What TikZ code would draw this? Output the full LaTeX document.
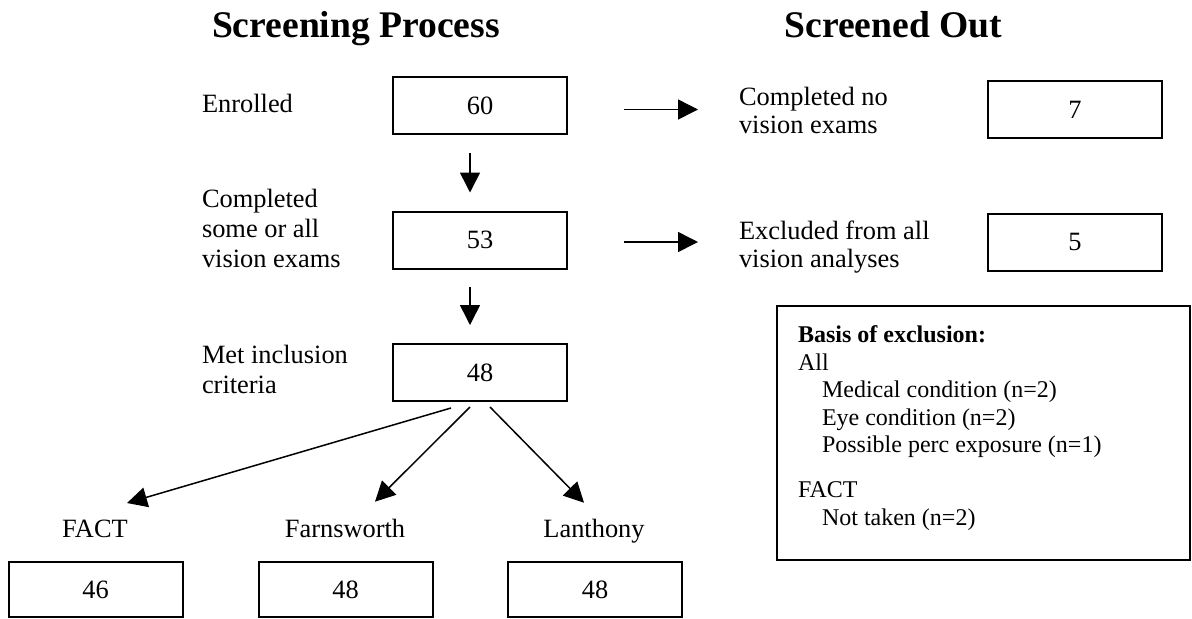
\documentclass[tikz,border=0pt]{standalone}
\usepackage{fontspec}
\setmainfont{Liberation Serif}
\usetikzlibrary{calc,arrows.meta}
\begin{document}
\begin{tikzpicture}[x=0.5pt,y=-0.5pt,
  every node/.style={inner sep=0pt, outer sep=0pt},
  txt/.style={font=\fontsize{13.2}{15}\selectfont, align=left, anchor=base west},
  rtxt/.style={font=\fontsize{13.2}{14}\selectfont, align=left, anchor=base west},
  ttl/.style={font=\fontsize{18.8}{22}\selectfont\bfseries, anchor=base west},
  test/.style={font=\fontsize{13.2}{15}\selectfont, anchor=base},
  numbox/.style={draw, line width=1pt, minimum width=87pt, minimum height=28.5pt,
                 font=\fontsize{13.2}{15}\selectfont},
  arr/.style={line width=0.75pt, -{Triangle[length=10pt,width=10pt]}},
]
\useasboundingbox (0,0) rectangle (1192,618);

% column headings
\node[ttl] (ttlA) at (212,37) {Screening Process};
\node[ttl, anchor=base east] (ttlB) at (1002,37) {Screened Out};

% screening stages (labels are anchored on their last line)
\node[numbox] (b60) at (480,105.5) {60};
\node[numbox] (b53) at (480,240) {53};
\node[numbox] (b48) at (480,372.5) {48};
\node[txt] (l60) at (202,112) {Enrolled};
\node[txt] (l53) at (202,267) {Completed\\some or all\\vision exams};
\node[txt] (l48) at (202,393) {Met inclusion\\criteria};

% screened out
\node[numbox] (b7) at (1075,109.5) {7};
\node[numbox] (b5) at (1075,242) {5};
\node[rtxt] (l7) at (739,133) {Completed no\\vision exams};
\node[rtxt] (l5) at (739,267) {Excluded from all\\vision analyses};

% basis of exclusion
\node[draw, line width=1pt, minimum width=206.5pt, minimum height=127pt] (excl) at (983.5,433) {};
\node[txt, font=\fontsize{12}{13.75}\selectfont] (excltxt) at (798,525)
  {\textbf{Basis of exclusion:}\\All\\
   \hspace*{12pt}Medical condition (n=2)\\
   \hspace*{12pt}Eye condition (n=2)\\
   \hspace*{12pt}Possible perc exposure (n=1)\\[8.75pt]
   FACT\\
   \hspace*{12pt}Not taken (n=2)};

% individual tests
\node[test] (fact) at (95,537) {FACT};
\node[test] (farn) at (345,537) {Farnsworth};
\node[test] (lant) at (594,537) {Lanthony};
\node[numbox, minimum height=27.5pt] (b46) at (95.5,589.5) {46};
\node[numbox, minimum height=27.5pt] (b48f) at (345.5,589.5) {48};
\node[numbox, minimum height=27.5pt] (b48l) at (595,589.5) {48};

% connectors
\draw[arr] ($(b60.south)+(-10,19)$) -- ($(b53.north)+(-10,-19)$);
\draw[arr] ($(b53.south)+(-10,18)$) -- ($(b48.north)+(-10,-19)$);
\draw[arr] ($(b60.east |- b7.west)+(57,0)$) -- ($(b7.west)+(-290,0)$);
\draw[arr] ($(b53.east |- b5.west)+(57,0)$) -- ($(b5.west)+(-290,0)$);
\draw[arr] ($(b48.south)+(-29,7)$) -- ($(fact.north)+(32,-16.5)$);
\draw[arr] ($(b48.south)+(-10,6)$) -- ($(farn.north)+(30,-17)$);
\draw[arr] ($(b48.south)+(10,6)$) -- ($(lant.north)+(-10,-16)$);
\end{tikzpicture}
\end{document}
